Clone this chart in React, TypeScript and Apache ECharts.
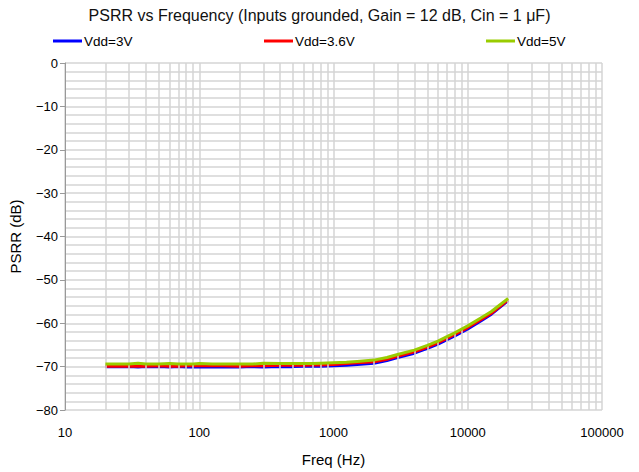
import React, { useEffect, useRef } from "react";
import * as echarts from "echarts";

const freqs = [20, 25, 30, 35, 40, 50, 60, 70, 80, 90, 100, 125, 150, 200, 250, 300, 400, 500, 600, 700, 800, 1000, 1250, 1500, 2000, 2500, 3000, 4000, 5000, 6000, 7000, 8000, 10000, 12500, 15000, 20000];
const vdd3 = [-70.0, -70.0, -70.0, -70.1, -70.0, -70.0, -70.1, -70.0, -70.1, -70.1, -70.1, -70.1, -70.1, -70.1, -70.0, -70.1, -70.0, -70.0, -69.9, -69.9, -69.9, -69.8, -69.7, -69.5, -69.2, -68.6, -67.9, -66.9, -65.8, -64.8, -63.8, -62.9, -61.3, -59.5, -57.9, -54.8];
const vdd36 = [-69.9, -69.9, -69.9, -69.9, -69.9, -69.8, -69.9, -69.9, -69.8, -69.8, -69.8, -69.8, -69.8, -69.9, -69.8, -69.8, -69.7, -69.7, -69.7, -69.6, -69.6, -69.5, -69.3, -69.1, -68.9, -68.3, -67.6, -66.6, -65.5, -64.5, -63.5, -62.6, -61.0, -59.2, -57.7, -54.6];
const vdd5 = [-69.4, -69.4, -69.4, -69.2, -69.4, -69.4, -69.3, -69.4, -69.4, -69.4, -69.3, -69.4, -69.4, -69.4, -69.4, -69.2, -69.3, -69.3, -69.3, -69.3, -69.2, -69.1, -69.0, -68.8, -68.5, -67.9, -67.2, -66.2, -65.1, -64.1, -63.1, -62.2, -60.6, -58.8, -57.3, -54.3];
const seriesNames = ["Vdd=3V", "Vdd=3.6V", "Vdd=5V"];
const seriesColors = ["#0000ff", "#ff0000", "#99cc00"];
const decades = [10, 100, 1000, 10000];
const minorMultipliers = [2, 3, 4, 5, 6, 7, 8, 9];

const FONT = "'Liberation Sans', Arial, sans-serif";

export default function App() {
  const ref = useRef<HTMLDivElement>(null);
  useEffect(() => {
    if (!ref.current) return;
    const chart = echarts.init(ref.current, null, { renderer: "svg" });
    const allData = [vdd3, vdd36, vdd5];
    const minorLines: any[] = [];
    decades.forEach((d) => minorMultipliers.forEach((m) => minorLines.push({ xAxis: d * m })));
    const legendLefts = [48, 259, 481];
    chart.setOption({
      animation: false,
      backgroundColor: "#ffffff",
      textStyle: { fontFamily: FONT },
      title: {
        text: "PSRR vs Frequency (Inputs grounded, Gain = 12 dB, Cin = 1 μF)",
        left: "center",
        top: 2,
        textStyle: { fontFamily: FONT, fontSize: 16, fontWeight: "normal", color: "#111" },
      },
      legend: seriesNames.map((n, i) => ({
        data: [n],
        left: legendLefts[i],
        top: 29,
        icon: "rect",
        itemWidth: 29,
        itemHeight: 3,
        itemGap: 2,
        textStyle: { fontFamily: FONT, fontSize: 13.5, color: "#000", padding: [0, 0, 0, -3] },
      })),
      grid: { left: 65, right: 37, top: 63, bottom: 62, containLabel: false },
      xAxis: {
        type: "log",
        logBase: 10,
        min: 10,
        max: 100000,
        name: "Freq (Hz)",
        nameLocation: "middle",
        nameGap: 42,
        nameTextStyle: { fontFamily: FONT, fontSize: 15, color: "#000" },
        axisLine: { show: false },
        axisTick: { show: false },
        axisLabel: {
          fontFamily: FONT,
          fontSize: 13,
          color: "#000",
          margin: 16,
          formatter: (v: number) => String(Math.round(v)),
        },
        splitLine: { show: true, lineStyle: { color: "#d4d4d4", width: 1.5 } },
      },
      yAxis: {
        type: "value",
        min: -80,
        max: 0,
        interval: 10,
        name: "PSRR (dB)",
        nameLocation: "middle",
        nameGap: 42,
        nameTextStyle: { fontFamily: FONT, fontSize: 15, color: "#000" },
        axisLine: { show: true, lineStyle: { color: "#999", width: 1 } },
        axisTick: { show: true, length: 5, lineStyle: { color: "#999" } },
        axisLabel: {
          fontFamily: FONT,
          fontSize: 13,
          color: "#000",
          margin: 7,
          formatter: (v: number) => (v < 0 ? "\u2212" + Math.abs(v) : String(v)),
        },
        splitLine: { show: true, lineStyle: { color: "#d4d4d4", width: 1.5 } },
        minorTick: { show: false, splitNumber: 5 },
        minorSplitLine: { show: true, lineStyle: { color: "#d4d4d4", width: 1.5 } },
      },
      series: [
        {
          name: "_grid",
          type: "line",
          data: [],
          silent: true,
          z: 1,
          markLine: {
            silent: true,
            symbol: "none",
            label: { show: false },
            lineStyle: { color: "#d4d4d4", width: 1.5, type: "solid" },
            data: minorLines,
            animation: false,
          },
        },
        ...seriesNames.map((n, i) => ({
          name: n,
          type: "line",
          z: 3 + i,
          data: freqs.map((f, j) => [f, allData[i][j]]),
          showSymbol: false,
          smooth: false,
          color: seriesColors[i],
          lineStyle: { color: seriesColors[i], width: 3 },
        })),
      ],
    });
    return () => chart.dispose();
  }, []);
  return <div ref={ref} style={{ width: 639, height: 472, position: "absolute", left: 0, top: 0 }} />;
}
